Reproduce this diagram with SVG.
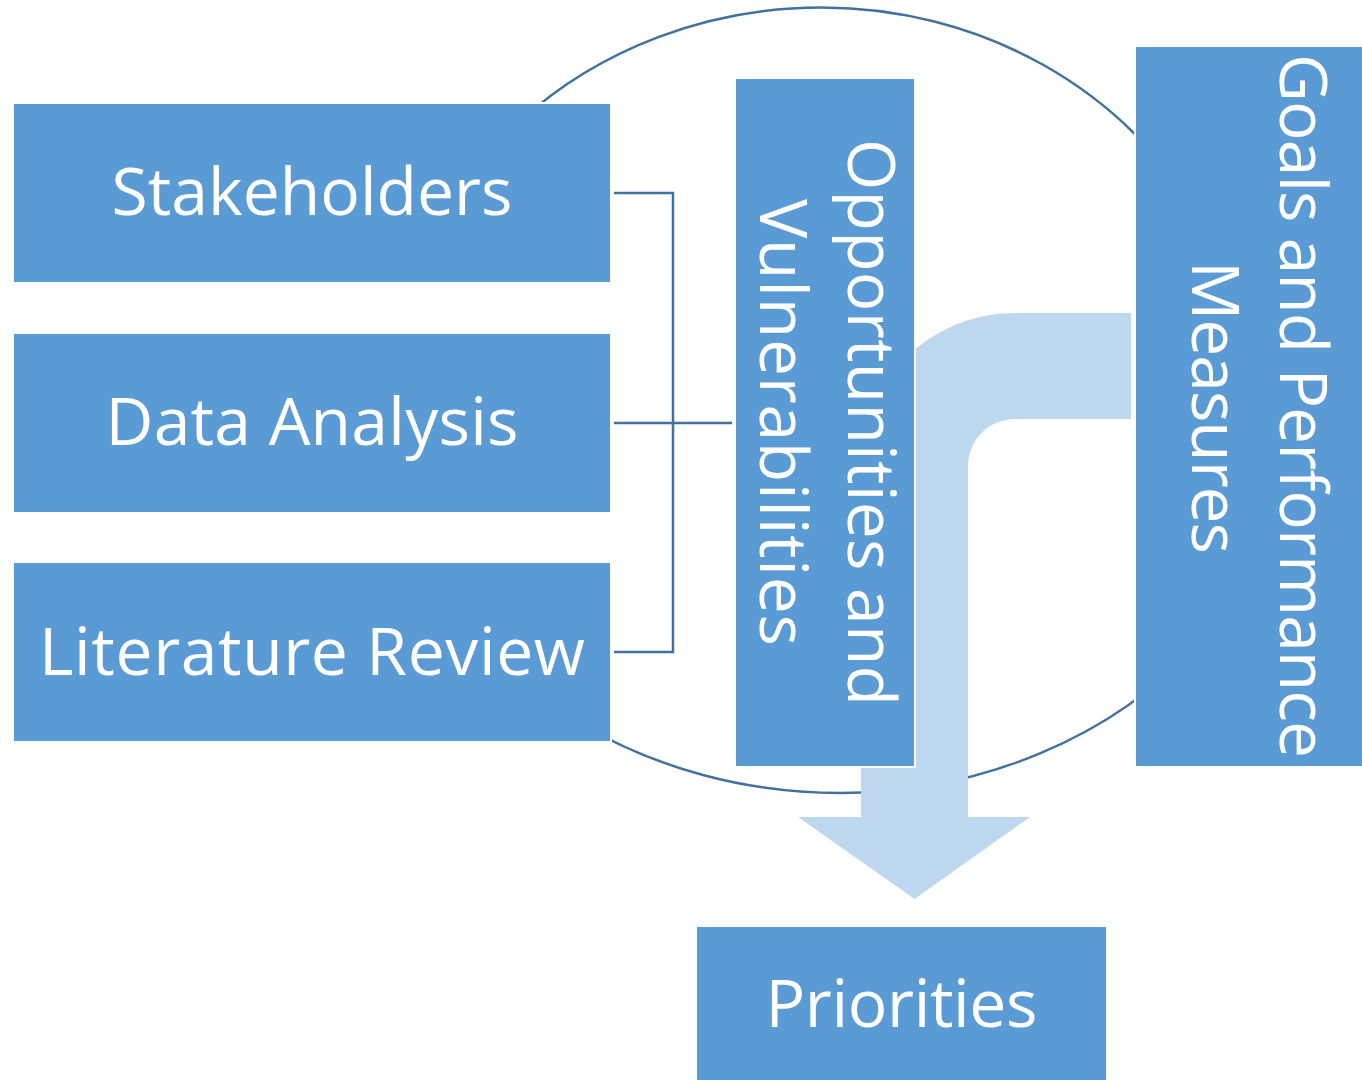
<svg xmlns="http://www.w3.org/2000/svg" width="1362" height="1080" viewBox="0 0 1362 1080">
<style>
.box{fill:#5B9BD5;stroke:#FFFFFF;stroke-width:2}
.lbl{font-family:"Open Sans","Liberation Sans",sans-serif;font-size:66px;fill:#FFFFFF;text-anchor:middle}
.ring{fill:none;stroke:#41719C;stroke-width:2.5}
.conn{fill:none;stroke:#41719C;stroke-width:2.5}
</style>
<rect width="1362" height="1080" fill="#FFFFFF"/>
<g id="cycle">
<path class="ring" d="M520,121 A431,397.5 0 0 1 822,7.5 A428,397.5 0 0 1 1200,219"/>
<path class="ring" d="M580,723.5 A458,393 0 0 0 840,793 A455,388 0 0 0 1200,642"/>
</g>
<g id="bent-arrow">
<path fill="#BDD7EE" d="M1131,313 L1014,313 A153,153 0 0 0 861,466 L861,817 L798,817 L914.5,899 L1030,817 L968,817 L968,466 A47,47 0 0 1 1015,419 L1131,419 Z"/>
</g>
<g id="connectors">
<path class="conn" d="M614,193 H673 V652 H614 M614,423 H732"/>
</g>
<g id="stakeholders">
<rect class="box" x="13" y="103" width="598" height="180"/>
<text class="lbl" x="312" y="215" textLength="401">Stakeholders</text>
</g>
<g id="data-analysis">
<rect class="box" x="13" y="333" width="598" height="180"/>
<text class="lbl" x="312" y="445" textLength="413">Data Analysis</text>
</g>
<g id="literature-review">
<rect class="box" x="13" y="562" width="598" height="180"/>
<text class="lbl" x="312" y="675" textLength="546">Literature Review</text>
</g>
<g id="opportunities">
<rect class="box" x="735" y="78" width="180" height="689"/>
<text class="lbl" transform="translate(848,422.5) rotate(90)" x="0" y="0" textLength="567">Opportunities and</text>
<text class="lbl" transform="translate(760,422.5) rotate(90)" x="0" y="0" textLength="447">Vulnerabilities</text>
</g>
<g id="goals">
<rect class="box" x="1135" y="46" width="229" height="721"/>
<text class="lbl" transform="translate(1280,406) rotate(90)" x="0" y="0" textLength="704">Goals and Performance</text>
<text class="lbl" transform="translate(1192,407.5) rotate(90)" x="0" y="0" textLength="293">Measures</text>
</g>
<g id="priorities">
<rect class="box" x="696" y="926" width="411" height="156"/>
<text class="lbl" x="901.5" y="1027" textLength="272">Priorities</text>
</g>
</svg>
